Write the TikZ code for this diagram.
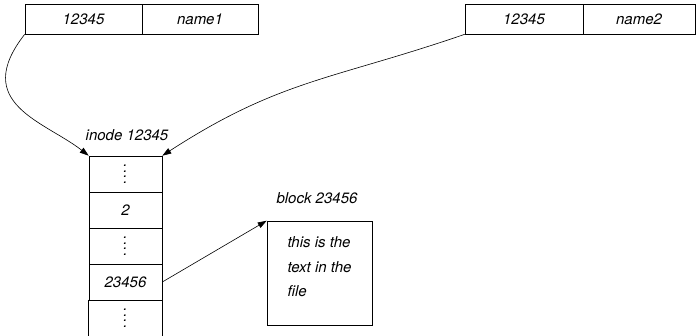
\documentclass[tikz,border=0pt]{standalone}
\usepackage{fontspec}
\setmainfont{TeX Gyre Heros}
\usetikzlibrary{arrows.meta}
\tikzset{>={Triangle[length=9pt,width=6pt]}}
\tikzset{
  cell/.style={draw, minimum width=73pt, minimum height=36pt, inner sep=0pt},
  entry/.style={draw, minimum height=30pt, inner sep=0pt},
  caption/.style={inner sep=0pt}
}
\newcommand{\dotcol}{\vbox{\baselineskip=5.5pt\hbox{.}\hbox{.}\hbox{.}\hbox{.}}}
\begin{document}
\begin{tikzpicture}[x=1pt,y=1pt,line width=0.6pt,font=\fontsize{15}{24.5}\selectfont\itshape]
    \useasboundingbox (0,0) rectangle (696,335);
    \node[entry,minimum width=117pt](A1) at (83.5,316) {12345};
    \node[entry,minimum width=116pt](B1) at (200,316) {name1};
    \node[entry,minimum width=118pt](A2) at (524,316) {12345};
    \node[entry,minimum width=112pt](B2) at (639,316) {name2};
    \node[caption](il) at (127,200) {inode 12345};
    \node[cell](c1) at (125.5,161) {\dotcol};
    \node[cell](c2) at (125.5,125) {2};
    \node[cell](c3) at (125.5,89) {\dotcol};
    \node[cell](c4) at (125.5,53) {23456};
    \node[cell,draw=none](c5) at (125.5,17) {\dotcol};
    \draw (c5.north west) -- (c5.south west) (c5.north east) -- (c5.south east);
    \node[caption](bl) at (317,137) {block 23456};
    \node[draw,minimum width=105pt,minimum height=104pt,align=left,text depth=12pt](blk) at (319.5,62)
        {this is the\\text in the\\file};
    \draw[->] (A1.south west) .. controls +(-128:88) and +(142:56) .. (c1.north west);
    \draw[->] (A2.south west) to[out=199,in=33,looseness=1.1] (c1.north east);
    \draw[->] (c4.east) -- (blk.north west);
\end{tikzpicture}
\end{document}
